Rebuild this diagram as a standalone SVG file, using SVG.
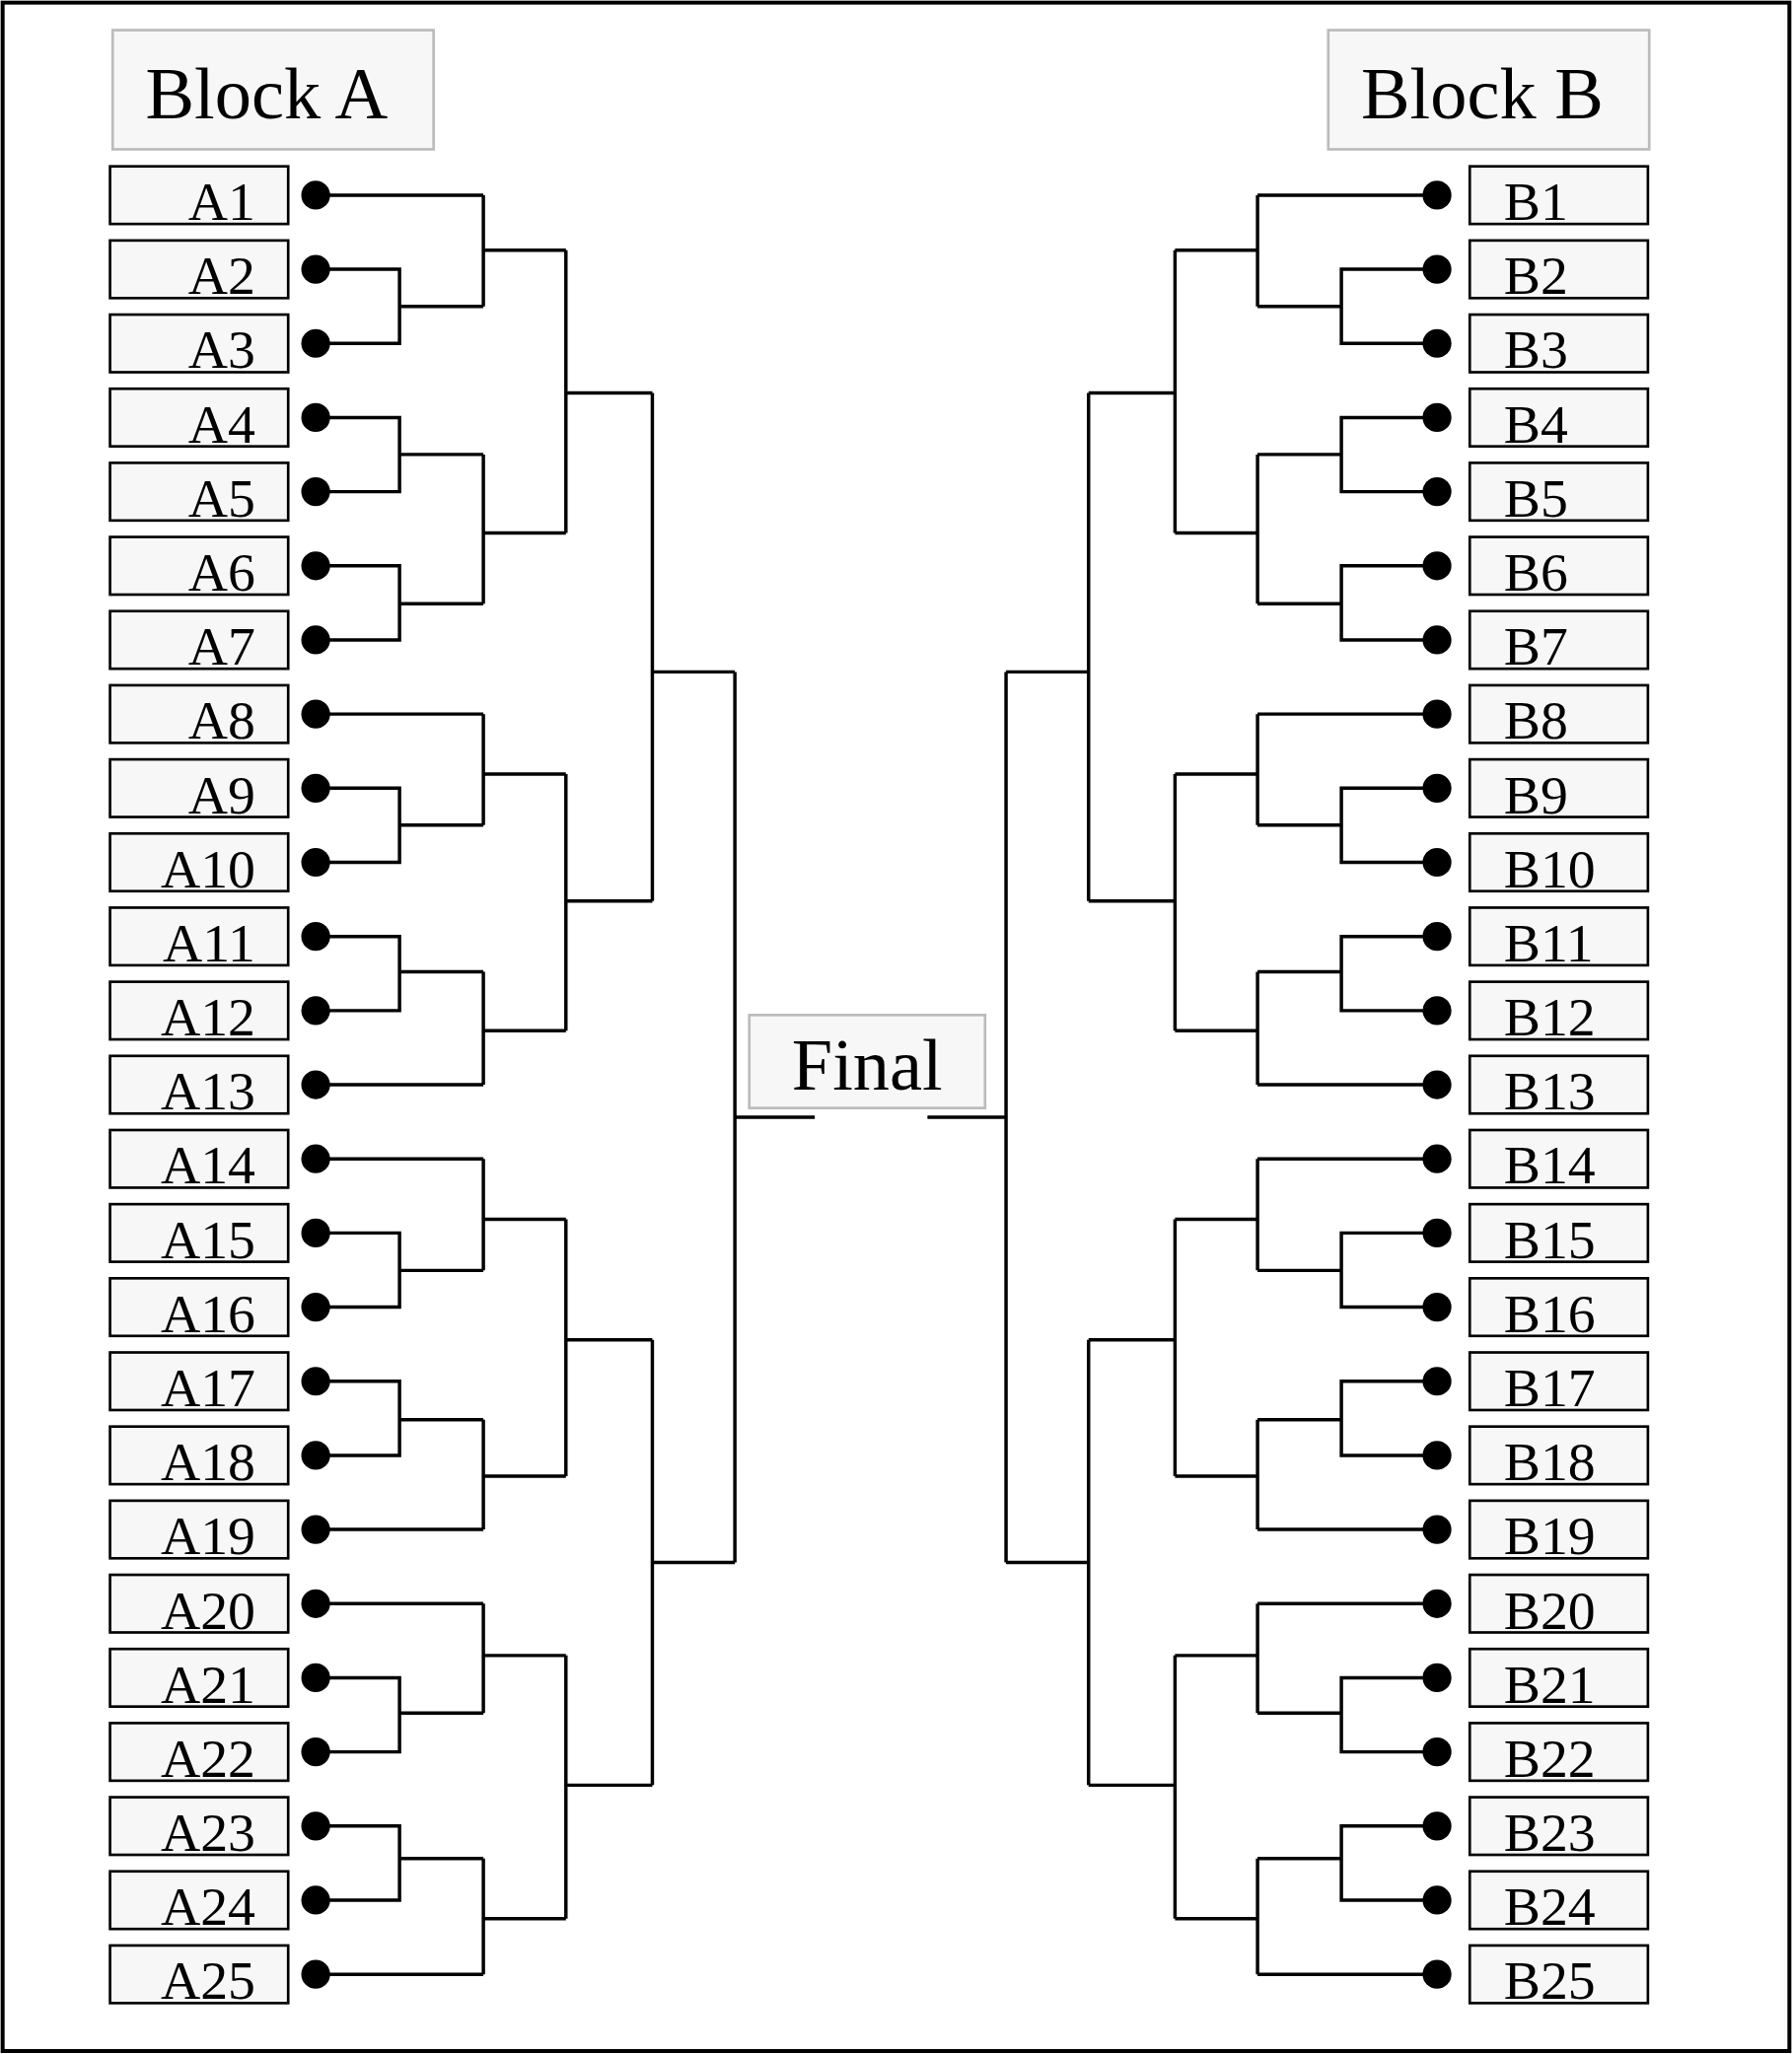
<svg xmlns="http://www.w3.org/2000/svg" width="1817" height="2083" viewBox="0 0 1817 2083">
<style>
.hdr{fill:#f7f7f7;stroke:#bbb;stroke-width:2}
.ent{fill:#f7f7f7;stroke:#000;stroke-width:2}
.ht{font-family:"Liberation Serif",serif;font-size:56px;fill:#000}
.et{font-family:"Liberation Serif",serif;font-size:42px;fill:#000}
.ln{fill:none;stroke:#000;stroke-width:2.6}
.dot{fill:#000}
</style>
<rect width="1817" height="2083" fill="#fff"/>
<g transform="scale(1.32822)">
<rect x="2" y="2" width="1364" height="1564" fill="none" stroke="#000" stroke-width="3"/>
<g id="blockA"><rect class="hdr" x="86" y="23" width="245" height="91"/><text class="ht" x="111" y="90">Block A</text></g>
<g id="blockB"><rect class="hdr" x="1014" y="23" width="245" height="91"/><text class="ht" x="1039" y="90">Block B</text></g>
<g id="final"><rect class="hdr" x="572" y="775" width="180" height="71"/><text class="ht" x="662" y="832" text-anchor="middle">Final</text></g>
<g id="entriesA">
<g id="A1"><rect class="ent" x="84" y="127" width="136" height="44"/><text class="et" x="195" y="168" text-anchor="end">A1</text><circle class="dot" cx="241" cy="149" r="11"/></g>
<g id="A2"><rect class="ent" x="84" y="183.6" width="136" height="44"/><text class="et" x="195" y="224.6" text-anchor="end">A2</text><circle class="dot" cx="241" cy="205.6" r="11"/></g>
<g id="A3"><rect class="ent" x="84" y="240.2" width="136" height="44"/><text class="et" x="195" y="281.2" text-anchor="end">A3</text><circle class="dot" cx="241" cy="262.2" r="11"/></g>
<g id="A4"><rect class="ent" x="84" y="296.8" width="136" height="44"/><text class="et" x="195" y="337.8" text-anchor="end">A4</text><circle class="dot" cx="241" cy="318.8" r="11"/></g>
<g id="A5"><rect class="ent" x="84" y="353.4" width="136" height="44"/><text class="et" x="195" y="394.4" text-anchor="end">A5</text><circle class="dot" cx="241" cy="375.4" r="11"/></g>
<g id="A6"><rect class="ent" x="84" y="410" width="136" height="44"/><text class="et" x="195" y="451" text-anchor="end">A6</text><circle class="dot" cx="241" cy="432" r="11"/></g>
<g id="A7"><rect class="ent" x="84" y="466.6" width="136" height="44"/><text class="et" x="195" y="507.6" text-anchor="end">A7</text><circle class="dot" cx="241" cy="488.6" r="11"/></g>
<g id="A8"><rect class="ent" x="84" y="523.2" width="136" height="44"/><text class="et" x="195" y="564.2" text-anchor="end">A8</text><circle class="dot" cx="241" cy="545.2" r="11"/></g>
<g id="A9"><rect class="ent" x="84" y="579.8" width="136" height="44"/><text class="et" x="195" y="620.8" text-anchor="end">A9</text><circle class="dot" cx="241" cy="601.8" r="11"/></g>
<g id="A10"><rect class="ent" x="84" y="636.4" width="136" height="44"/><text class="et" x="195" y="677.4" text-anchor="end">A10</text><circle class="dot" cx="241" cy="658.4" r="11"/></g>
<g id="A11"><rect class="ent" x="84" y="693" width="136" height="44"/><text class="et" x="195" y="734" text-anchor="end">A11</text><circle class="dot" cx="241" cy="715" r="11"/></g>
<g id="A12"><rect class="ent" x="84" y="749.6" width="136" height="44"/><text class="et" x="195" y="790.6" text-anchor="end">A12</text><circle class="dot" cx="241" cy="771.6" r="11"/></g>
<g id="A13"><rect class="ent" x="84" y="806.2" width="136" height="44"/><text class="et" x="195" y="847.2" text-anchor="end">A13</text><circle class="dot" cx="241" cy="828.2" r="11"/></g>
<g id="A14"><rect class="ent" x="84" y="862.8" width="136" height="44"/><text class="et" x="195" y="903.8" text-anchor="end">A14</text><circle class="dot" cx="241" cy="884.8" r="11"/></g>
<g id="A15"><rect class="ent" x="84" y="919.4" width="136" height="44"/><text class="et" x="195" y="960.4" text-anchor="end">A15</text><circle class="dot" cx="241" cy="941.4" r="11"/></g>
<g id="A16"><rect class="ent" x="84" y="976" width="136" height="44"/><text class="et" x="195" y="1017" text-anchor="end">A16</text><circle class="dot" cx="241" cy="998" r="11"/></g>
<g id="A17"><rect class="ent" x="84" y="1032.6" width="136" height="44"/><text class="et" x="195" y="1073.6" text-anchor="end">A17</text><circle class="dot" cx="241" cy="1054.6" r="11"/></g>
<g id="A18"><rect class="ent" x="84" y="1089.2" width="136" height="44"/><text class="et" x="195" y="1130.2" text-anchor="end">A18</text><circle class="dot" cx="241" cy="1111.2" r="11"/></g>
<g id="A19"><rect class="ent" x="84" y="1145.8" width="136" height="44"/><text class="et" x="195" y="1186.8" text-anchor="end">A19</text><circle class="dot" cx="241" cy="1167.8" r="11"/></g>
<g id="A20"><rect class="ent" x="84" y="1202.4" width="136" height="44"/><text class="et" x="195" y="1243.4" text-anchor="end">A20</text><circle class="dot" cx="241" cy="1224.4" r="11"/></g>
<g id="A21"><rect class="ent" x="84" y="1259" width="136" height="44"/><text class="et" x="195" y="1300" text-anchor="end">A21</text><circle class="dot" cx="241" cy="1281" r="11"/></g>
<g id="A22"><rect class="ent" x="84" y="1315.6" width="136" height="44"/><text class="et" x="195" y="1356.6" text-anchor="end">A22</text><circle class="dot" cx="241" cy="1337.6" r="11"/></g>
<g id="A23"><rect class="ent" x="84" y="1372.2" width="136" height="44"/><text class="et" x="195" y="1413.2" text-anchor="end">A23</text><circle class="dot" cx="241" cy="1394.2" r="11"/></g>
<g id="A24"><rect class="ent" x="84" y="1428.8" width="136" height="44"/><text class="et" x="195" y="1469.8" text-anchor="end">A24</text><circle class="dot" cx="241" cy="1450.8" r="11"/></g>
<g id="A25"><rect class="ent" x="84" y="1485.4" width="136" height="44"/><text class="et" x="195" y="1526.4" text-anchor="end">A25</text><circle class="dot" cx="241" cy="1507.4" r="11"/></g>
</g>
<g id="entriesB">
<g id="B1"><rect class="ent" x="1122" y="127" width="136" height="44"/><text class="et" x="1148" y="168">B1</text><circle class="dot" cx="1097" cy="149" r="11"/></g>
<g id="B2"><rect class="ent" x="1122" y="183.6" width="136" height="44"/><text class="et" x="1148" y="224.6">B2</text><circle class="dot" cx="1097" cy="205.6" r="11"/></g>
<g id="B3"><rect class="ent" x="1122" y="240.2" width="136" height="44"/><text class="et" x="1148" y="281.2">B3</text><circle class="dot" cx="1097" cy="262.2" r="11"/></g>
<g id="B4"><rect class="ent" x="1122" y="296.8" width="136" height="44"/><text class="et" x="1148" y="337.8">B4</text><circle class="dot" cx="1097" cy="318.8" r="11"/></g>
<g id="B5"><rect class="ent" x="1122" y="353.4" width="136" height="44"/><text class="et" x="1148" y="394.4">B5</text><circle class="dot" cx="1097" cy="375.4" r="11"/></g>
<g id="B6"><rect class="ent" x="1122" y="410" width="136" height="44"/><text class="et" x="1148" y="451">B6</text><circle class="dot" cx="1097" cy="432" r="11"/></g>
<g id="B7"><rect class="ent" x="1122" y="466.6" width="136" height="44"/><text class="et" x="1148" y="507.6">B7</text><circle class="dot" cx="1097" cy="488.6" r="11"/></g>
<g id="B8"><rect class="ent" x="1122" y="523.2" width="136" height="44"/><text class="et" x="1148" y="564.2">B8</text><circle class="dot" cx="1097" cy="545.2" r="11"/></g>
<g id="B9"><rect class="ent" x="1122" y="579.8" width="136" height="44"/><text class="et" x="1148" y="620.8">B9</text><circle class="dot" cx="1097" cy="601.8" r="11"/></g>
<g id="B10"><rect class="ent" x="1122" y="636.4" width="136" height="44"/><text class="et" x="1148" y="677.4">B10</text><circle class="dot" cx="1097" cy="658.4" r="11"/></g>
<g id="B11"><rect class="ent" x="1122" y="693" width="136" height="44"/><text class="et" x="1148" y="734">B11</text><circle class="dot" cx="1097" cy="715" r="11"/></g>
<g id="B12"><rect class="ent" x="1122" y="749.6" width="136" height="44"/><text class="et" x="1148" y="790.6">B12</text><circle class="dot" cx="1097" cy="771.6" r="11"/></g>
<g id="B13"><rect class="ent" x="1122" y="806.2" width="136" height="44"/><text class="et" x="1148" y="847.2">B13</text><circle class="dot" cx="1097" cy="828.2" r="11"/></g>
<g id="B14"><rect class="ent" x="1122" y="862.8" width="136" height="44"/><text class="et" x="1148" y="903.8">B14</text><circle class="dot" cx="1097" cy="884.8" r="11"/></g>
<g id="B15"><rect class="ent" x="1122" y="919.4" width="136" height="44"/><text class="et" x="1148" y="960.4">B15</text><circle class="dot" cx="1097" cy="941.4" r="11"/></g>
<g id="B16"><rect class="ent" x="1122" y="976" width="136" height="44"/><text class="et" x="1148" y="1017">B16</text><circle class="dot" cx="1097" cy="998" r="11"/></g>
<g id="B17"><rect class="ent" x="1122" y="1032.6" width="136" height="44"/><text class="et" x="1148" y="1073.6">B17</text><circle class="dot" cx="1097" cy="1054.6" r="11"/></g>
<g id="B18"><rect class="ent" x="1122" y="1089.2" width="136" height="44"/><text class="et" x="1148" y="1130.2">B18</text><circle class="dot" cx="1097" cy="1111.2" r="11"/></g>
<g id="B19"><rect class="ent" x="1122" y="1145.8" width="136" height="44"/><text class="et" x="1148" y="1186.8">B19</text><circle class="dot" cx="1097" cy="1167.8" r="11"/></g>
<g id="B20"><rect class="ent" x="1122" y="1202.4" width="136" height="44"/><text class="et" x="1148" y="1243.4">B20</text><circle class="dot" cx="1097" cy="1224.4" r="11"/></g>
<g id="B21"><rect class="ent" x="1122" y="1259" width="136" height="44"/><text class="et" x="1148" y="1300">B21</text><circle class="dot" cx="1097" cy="1281" r="11"/></g>
<g id="B22"><rect class="ent" x="1122" y="1315.6" width="136" height="44"/><text class="et" x="1148" y="1356.6">B22</text><circle class="dot" cx="1097" cy="1337.6" r="11"/></g>
<g id="B23"><rect class="ent" x="1122" y="1372.2" width="136" height="44"/><text class="et" x="1148" y="1413.2">B23</text><circle class="dot" cx="1097" cy="1394.2" r="11"/></g>
<g id="B24"><rect class="ent" x="1122" y="1428.8" width="136" height="44"/><text class="et" x="1148" y="1469.8">B24</text><circle class="dot" cx="1097" cy="1450.8" r="11"/></g>
<g id="B25"><rect class="ent" x="1122" y="1485.4" width="136" height="44"/><text class="et" x="1148" y="1526.4">B25</text><circle class="dot" cx="1097" cy="1507.4" r="11"/></g>
</g>
<g id="connectors" class="ln">
<path d="M241 205.6H305V262.2H241M305 234H369M241 318.8H305V375.4H241M305 347H369M241 432H305V488.6H241M305 461H369M241 601.8H305V658.4H241M305 630H369M241 715H305V771.6H241M305 742H369M241 941.4H305V998H241M305 970H369M241 1054.6H305V1111.2H241M305 1084H369M241 1281H305V1337.6H241M305 1308H369M241 1394.2H305V1450.8H241M305 1419H369"/>
<path d="M241 149H369M241 545.2H369M241 828.2H369M241 884.8H369M241 1167.8H369M241 1224.4H369M241 1507.4H369"/>
<path d="M369 149V234M369 191H432M369 347V461M369 407H432M369 545.2V630M369 591H432M369 742V828.2M369 787H432M369 884.8V970M369 931H432M369 1084V1167.8M369 1127H432M369 1224.4V1308M369 1264H432M369 1419V1507.4M369 1465H432"/>
<path d="M432 191V407M432 300H498M432 591V787M432 688H498M432 931V1127M432 1023H498M432 1264V1465M432 1363H498"/>
<path d="M498 300V688M498 513H561M498 1023V1363M498 1193H561M561 513V1193M561 853H622"/>
<path d="M1097 205.6H1024V262.2H1097M1024 234H960M1097 318.8H1024V375.4H1097M1024 347H960M1097 432H1024V488.6H1097M1024 461H960M1097 601.8H1024V658.4H1097M1024 630H960M1097 715H1024V771.6H1097M1024 742H960M1097 941.4H1024V998H1097M1024 970H960M1097 1054.6H1024V1111.2H1097M1024 1084H960M1097 1281H1024V1337.6H1097M1024 1308H960M1097 1394.2H1024V1450.8H1097M1024 1419H960"/>
<path d="M1097 149H960M1097 545.2H960M1097 828.2H960M1097 884.8H960M1097 1167.8H960M1097 1224.4H960M1097 1507.4H960"/>
<path d="M960 149V234M960 191H897M960 347V461M960 407H897M960 545.2V630M960 591H897M960 742V828.2M960 787H897M960 884.8V970M960 931H897M960 1084V1167.8M960 1127H897M960 1224.4V1308M960 1264H897M960 1419V1507.4M960 1465H897"/>
<path d="M897 191V407M897 300H831M897 591V787M897 688H831M897 931V1127M897 1023H831M897 1264V1465M897 1363H831"/>
<path d="M831 300V688M831 513H768M831 1023V1363M831 1193H768M768 513V1193M768 853H708"/>
</g>
</g>
</svg>
